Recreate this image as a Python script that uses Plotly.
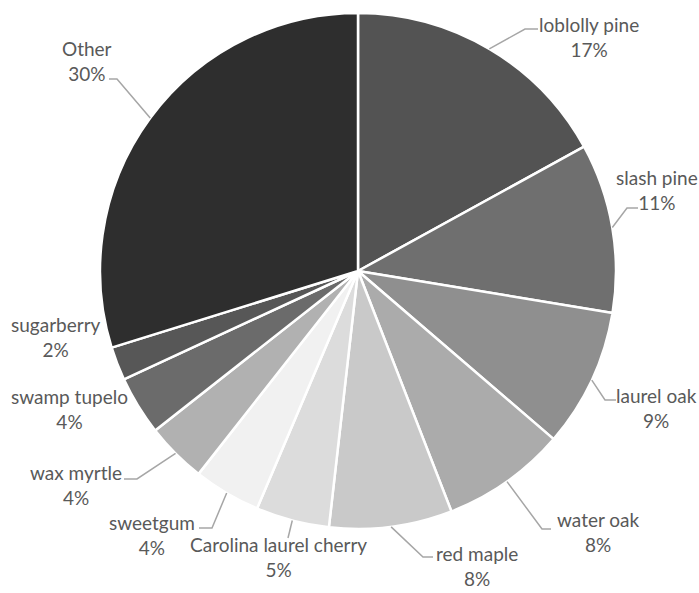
import math
import plotly.graph_objects as go

# ---- data ----
species = ["loblolly pine", "slash pine", "laurel oak", "water oak", "red maple",
           "Carolina laurel cherry", "sweetgum", "wax myrtle", "swamp tupelo",
           "sugarberry", "Other"]
shares = [17.0, 10.6, 8.7, 7.8, 7.7, 4.6, 4.2, 3.8, 3.7, 2.1, 29.8]
colors = ["#535353", "#6f6f6f", "#8f8f8f", "#ababab", "#c9c9c9", "#dcdcdc",
          "#f1f1f1", "#b1b1b1", "#6b6b6b", "#575757", "#2e2e2e"]

# ---- layout geometry (pixels) ----
W, H = 699, 593
CX, CY, R = 358, 271, 258
# label block centres, leader elbow and leader end (None = no leader)
label_centres = [(589, 37), (657, 190), (656, 408), (598, 532), (477, 566),
                 (278, 557), (152, 535), (76, 485), (69, 409), (56, 337), (87, 61)]
leader_bends = [((525, 29), 538), ((627, 208), 638), ((605, 400), 616),
                ((542, 529), 551), ((423, 557), 433), ((288, 538), 288),
                ((212, 528), 199), ((137, 479), 124), None, None, ((117, 79), 109)]

def px(x):
    return x / W

def py(y):
    return 1 - y / H

fig = go.Figure(go.Pie(
    labels=species, values=shares, sort=False, direction="clockwise",
    rotation=0, textinfo="none", hoverinfo="label+percent",
    marker=dict(colors=colors, line=dict(color="white", width=2.5)),
    domain=dict(x=[px(CX - R), px(CX + R)], y=[py(CY + R), py(CY - R)]),
    showlegend=False,
))

total = sum(shares)
annotations = []
shapes = []
cum = 0.0
for name, v, (tx, ty), lead in zip(species, shares, label_centres, leader_bends):
    mid = (cum + v / 2) / total * 360
    cum += v
    pct = round(v / total * 100)
    annotations.append(dict(
        x=px(tx), y=py(ty), xref="paper", yref="paper", showarrow=False,
        text=f"{name}<br>{pct}%", xanchor="center", yanchor="middle",
        align="center", font=dict(family="Lato", size=19, color="#595959"),
    ))
    if lead is not None:
        (bx, by), ex = lead
        sx = CX + R * math.sin(math.radians(mid))
        sy = CY - R * math.cos(math.radians(mid))
        path = f"M {px(sx)} {py(sy)} L {px(bx)} {py(by)} L {px(ex)} {py(by)}"
        shapes.append(dict(type="path", xref="paper", yref="paper", path=path,
                           line=dict(color="#a6a6a6", width=1.5)))

fig.update_layout(
    width=W, height=H, margin=dict(l=0, r=0, t=0, b=0),
    paper_bgcolor="white", plot_bgcolor="white",
    annotations=annotations, shapes=shapes,
)
fig.write_html("out.html", config={"displayModeBar": False},
               post_script="document.body.style.margin='0px';")
